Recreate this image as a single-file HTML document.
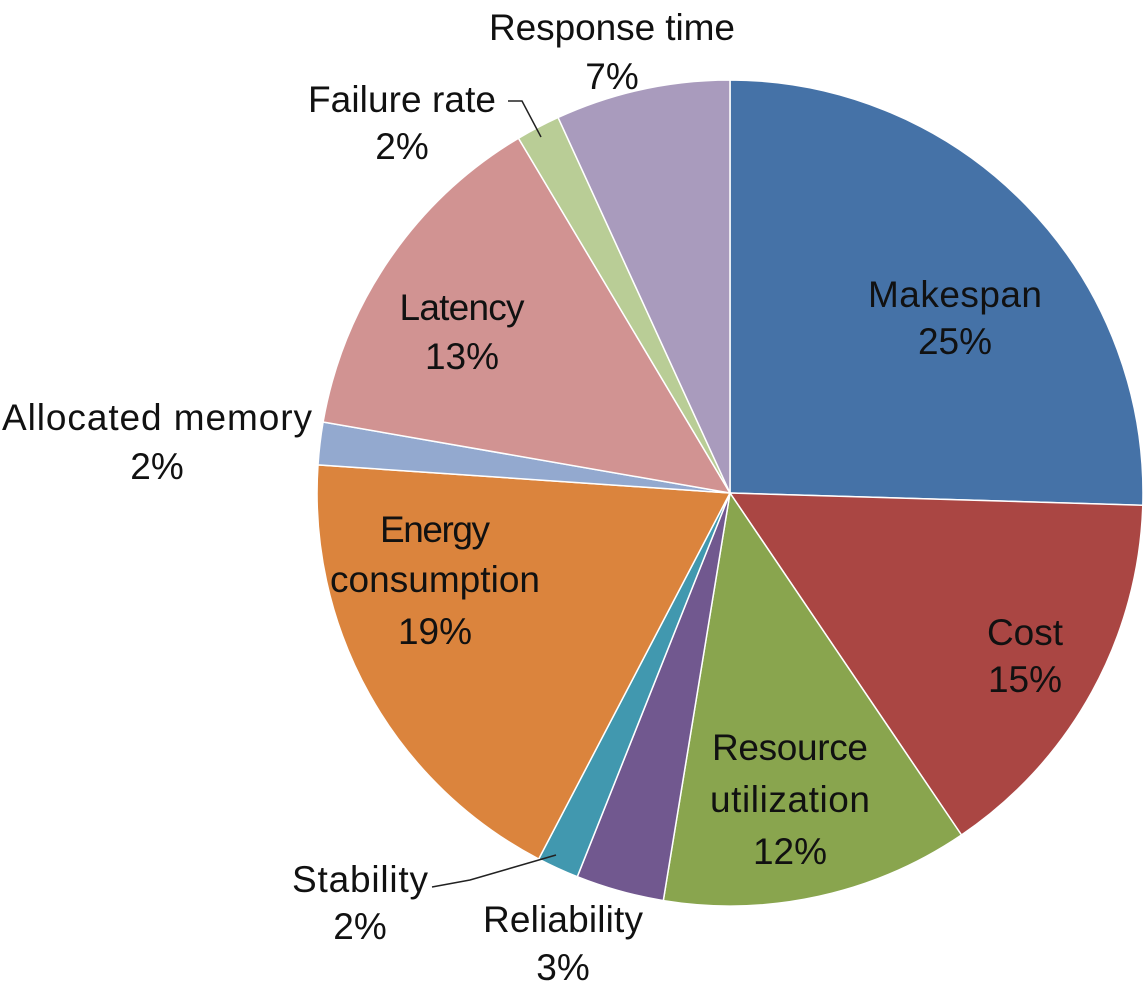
<!DOCTYPE html>
<html><head><meta charset="utf-8"><style>
html,body{margin:0;padding:0;background:#fff;}
svg text{font-family:"Liberation Sans",sans-serif;font-size:37px;fill:#111;text-anchor:middle;}
</style></head><body>
<svg id="s" width="1148" height="987" viewBox="0 0 1148 987" xmlns="http://www.w3.org/2000/svg">
<g id="pie"></g>
<polyline points="508,101 522,101 541,137" fill="none" stroke="#222" stroke-width="1.5"/>
<polyline points="432,887 470,880 556,855" fill="none" stroke="#222" stroke-width="1.5"/>
<text x="955" y="307" textLength="174">Makespan</text><text x="955" y="354">25%</text>
<text x="1025" y="645">Cost</text><text x="1025" y="692">15%</text>
<text x="790" y="760" textLength="156">Resource</text><text x="790" y="812" textLength="160">utilization</text><text x="790" y="864">12%</text>
<text x="563" y="932" textLength="160">Reliability</text><text x="563" y="980">3%</text>
<text x="360" y="892" textLength="136">Stability</text><text x="360" y="939">2%</text>
<text x="435" y="542" textLength="110">Energy</text><text x="435" y="592" textLength="210">consumption</text><text x="435" y="644">19%</text>
<text x="157" y="430" textLength="310">Allocated memory</text><text x="157" y="479">2%</text>
<text x="462" y="320" textLength="125">Latency</text><text x="462" y="369">13%</text>
<text x="402" y="112" textLength="188">Failure rate</text><text x="402" y="159">2%</text>
<text x="612" y="40" textLength="246">Response time</text><text x="612" y="89">7%</text>
</svg>
<script>
var cx=730,cy=493,r=413;
var b=[0,91.7,145.9,189.3,201.7,207.6,273.9,279.9,329.2,335.4,360];
var c=["#4572a7","#aa4643","#89a54e","#71588f","#4198af","#db843d","#93a9cf","#d19392","#b9cd96","#a99bbd"];
var g=document.getElementById("pie"),h="";
function p(a){a=a*Math.PI/180;return (cx+r*Math.sin(a)).toFixed(1)+","+(cy-r*Math.cos(a)).toFixed(1);}
for(var i=0;i<10;i++){var la=(b[i+1]-b[i])>180?1:0;
h+='<path d="M'+cx+','+cy+' L'+p(b[i])+' A'+r+','+r+' 0 '+la+' 1 '+p(b[i+1])+' Z" fill="'+c[i]+'" stroke="#fff" stroke-width="1.5"/>';}
g.innerHTML=h;
</script>
</body></html>
